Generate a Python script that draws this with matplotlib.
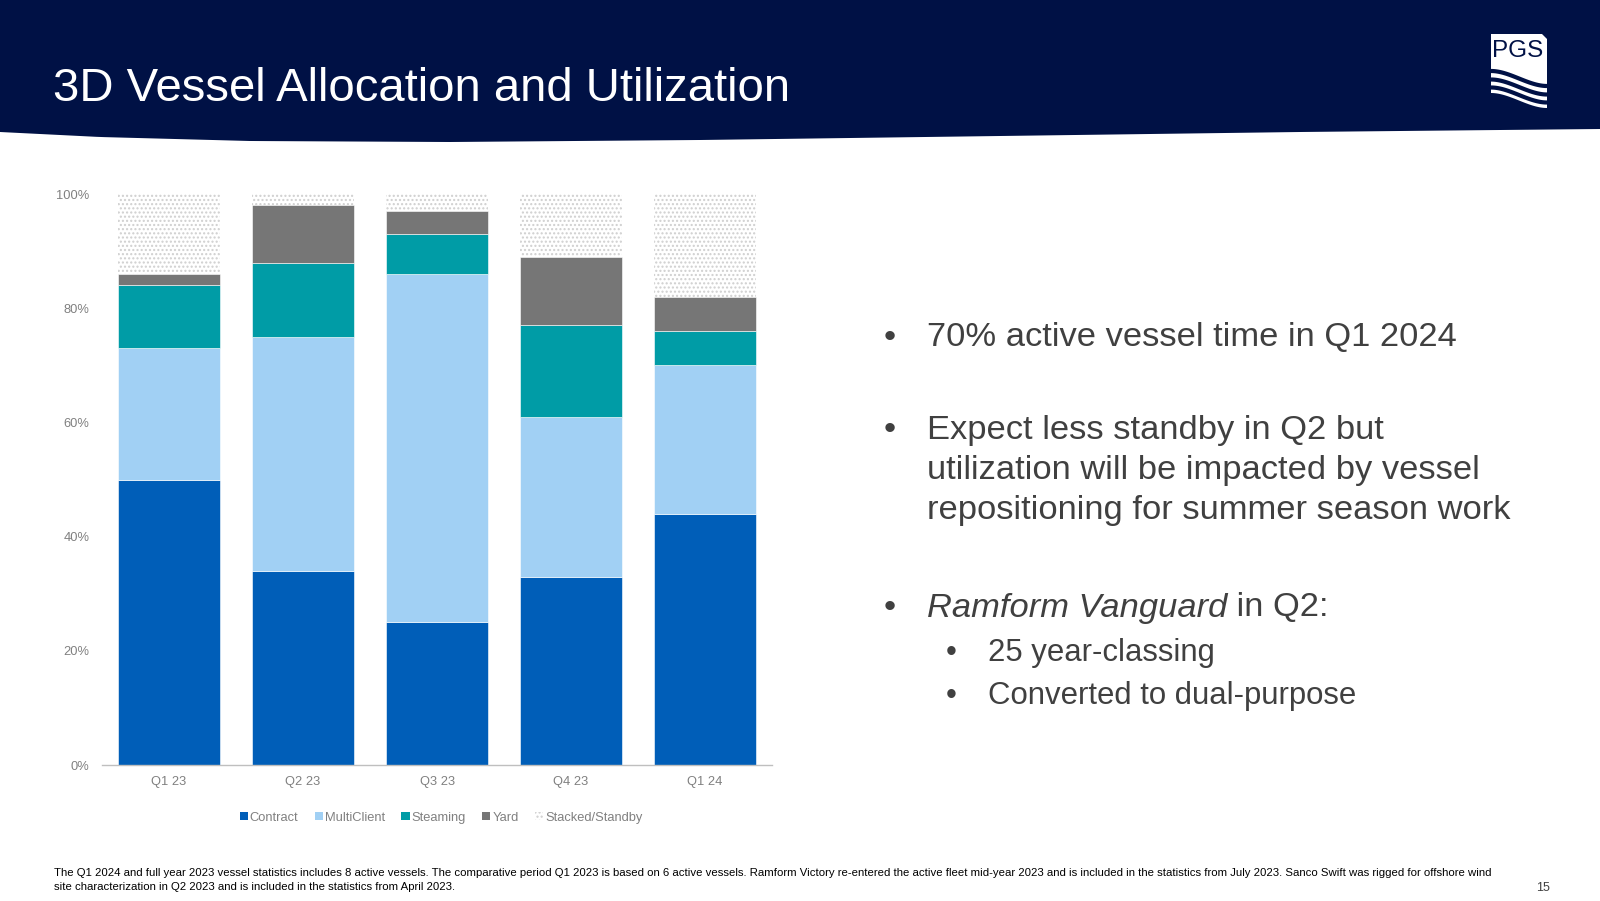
import numpy as np
import matplotlib
matplotlib.use("Agg")
import matplotlib.pyplot as plt
from matplotlib.patches import Polygon, Patch

plt.rcParams['font.family'] = ['Liberation Sans', 'DejaVu Sans']
plt.rcParams['hatch.linewidth'] = 1.0

# data (share of vessel time per quarter)
quarters = ["Q1 23", "Q2 23", "Q3 23", "Q4 23", "Q1 24"]
contract = [0.50, 0.34, 0.25, 0.33, 0.44]
multiclient = [0.23, 0.41, 0.61, 0.28, 0.26]
steaming = [0.11, 0.13, 0.07, 0.16, 0.06]
yard = [0.02, 0.10, 0.04, 0.12, 0.06]
standby = [0.14, 0.02, 0.03, 0.11, 0.18]

series_names = ["Contract", "MultiClient", "Steaming", "Yard", "Stacked/Standby"]
colors = ["#005EB8", "#A1D0F4", "#009CA6", "#767676", "white"]

NAVY = "#001145"
TEXT = "#404040"

fig = plt.figure(figsize=(16, 9.01), dpi=100)

# background layer in pixel coordinates for header, logo and slide text
bg = fig.add_axes([0, 0, 1, 1], zorder=0)
bg.set_xlim(0, 1600)
bg.set_ylim(901, 0)
bg.axis("off")

# header band with curved bottom edge
ex = np.array([0, 100, 250, 450, 700, 1000, 1300, 1600])
ey = np.array([132, 137, 141, 142, 140, 136, 132, 129])
xs = np.linspace(0, 1600, 200)
ys = np.interp(xs, ex, ey)
pts = [(0, 0), (1600, 0)] + list(zip(xs[::-1], ys[::-1]))
bg.add_patch(Polygon(pts, closed=True, facecolor=NAVY, edgecolor="none"))
bg.text(53, 89, "3D Vessel Allocation and Utilization", color="white",
        fontsize=34, va="center", ha="left")

# logo
lx0, lx1 = 1491, 1547
t = np.linspace(0, 1, 60)
drop = 15 * (3 * t ** 2 - 2 * t ** 3)
wx = lx0 + t * (lx1 - lx0)
logo = [(lx0, 34), (lx1 - 5, 34), (lx1, 39)] + list(zip(wx[::-1], (93 + drop)[::-1]))
bg.add_patch(Polygon(logo, closed=True, facecolor="white", edgecolor="none"))
for base in [71, 79.5, 87.5]:
    bg.plot(wx, base + drop, color=NAVY, lw=3.0, solid_capstyle="butt")
bg.text(1518, 51, "PGS", color=NAVY, fontsize=17.5, ha="center", va="center")

# chart
ax = fig.add_axes([0.0638, 0.1509, 0.41875, 0.6337], zorder=1)
ax.set_facecolor("none")
x = np.arange(len(quarters))
bottom = np.zeros(len(quarters))
for name, vals, col in zip(series_names, [contract, multiclient, steaming, yard, standby], colors):
    if name == "Stacked/Standby":
        ax.bar(x, vals, 0.76, bottom=bottom, facecolor="white", edgecolor="#cfcfcf",
               hatch="....", linewidth=0)
    else:
        ax.bar(x, vals, 0.76, bottom=bottom, color=col, edgecolor="white", linewidth=0.4)
    bottom += np.array(vals)

ax.set_xlim(-0.5, 4.5)
ax.set_ylim(0, 1.0)
ax.set_yticks(np.arange(0, 1.01, 0.2))
ax.set_yticklabels([f"{int(round(v * 100))}%" for v in np.arange(0, 1.01, 0.2)])
ax.set_xticks(x)
ax.set_xticklabels(quarters)
ax.tick_params(axis="both", length=0, labelsize=9.3, labelcolor="#808080")
ax.tick_params(axis="y", pad=9)
ax.tick_params(axis="x", pad=8)
for s in ["top", "right", "left"]:
    ax.spines[s].set_visible(False)
ax.spines["bottom"].set_color("#bfbfbf")
ax.spines["bottom"].set_linewidth(1.0)

handles = []
for name, col in zip(series_names, colors):
    if name == "Stacked/Standby":
        handles.append(Patch(facecolor="white", edgecolor="#cfcfcf", hatch="....", linewidth=0, label=name))
    else:
        handles.append(Patch(facecolor=col, edgecolor="none", label=name))
fig.legend(handles=handles, loc="center", bbox_to_anchor=(0.2756, 0.0925), ncol=5,
           frameon=False, fontsize=9.3, labelcolor="#808080", handlelength=0.65,
           handleheight=0.65, handletextpad=0.15, columnspacing=1.25)

# bullets
bfs = 24.8
sfs = 22.4
bg.text(890, 338, "•", fontsize=bfs, color=TEXT, va="center", ha="center")
bg.text(927, 338, "70% active vessel time in Q1 2024", fontsize=bfs, color=TEXT, va="center")
bg.text(890, 430, "•", fontsize=bfs, color=TEXT, va="center", ha="center")
for yy, line in zip([430, 470, 510], ["Expect less standby in Q2 but",
                                      "utilization will be impacted by vessel",
                                      "repositioning for summer season work"]):
    bg.text(927, yy, line, fontsize=bfs, color=TEXT, va="center")
bg.text(890, 608, "•", fontsize=bfs, color=TEXT, va="center", ha="center")
it = bg.text(927, 608, "Ramform Vanguard", fontsize=bfs, color=TEXT, va="center", style="italic")
bg.annotate(" in Q2:", xy=(1, 0), xycoords=it, fontsize=bfs, color=TEXT, va="bottom", ha="left")
bg.text(951, 653, "•", fontsize=sfs, color=TEXT, va="center", ha="center")
bg.text(988, 653, "25 year-classing", fontsize=sfs, color=TEXT, va="center")
bg.text(951, 696, "•", fontsize=sfs, color=TEXT, va="center", ha="center")
bg.text(988, 696, "Converted to dual-purpose", fontsize=sfs, color=TEXT, va="center")

# footnote
foot1 = ("The Q1 2024 and full year 2023 vessel statistics includes 8 active vessels. The comparative period Q1 2023 "
         "is based on 6 active vessels. Ramform Victory re-entered the active fleet mid-year 2023 and is included in "
         "the statistics from July 2023. Sanco Swift was rigged for offshore wind")
foot2 = "site characterization in Q2 2023 and is included in the statistics from April 2023."
bg.text(54, 873, foot1, fontsize=8.19, color="black", va="center")
bg.text(54, 887, foot2, fontsize=8.19, color="black", va="center")
bg.text(1543, 888, "15", fontsize=9, color=TEXT, va="center", ha="center")

fig.savefig("out.png", dpi=100)
